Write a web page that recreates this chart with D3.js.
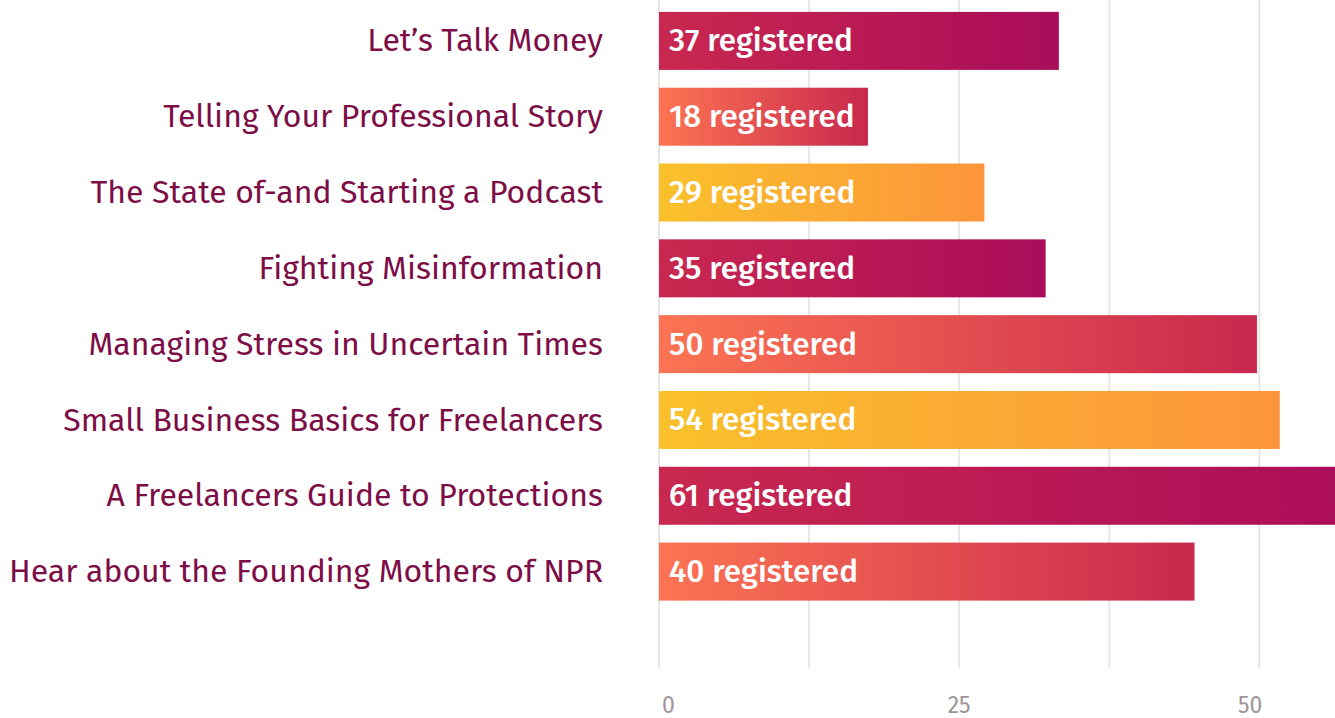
<!DOCTYPE html>
<html>
<head>
<meta charset="utf-8">
<script src="https://cdn.jsdelivr.net/npm/d3@7"></script>
<style>
	body { margin: 0; background: #fff; }
	svg { display: block; font-family: "Fira Sans", "Open Sans", sans-serif; }
</style>
</head>
<body>
<svg id="chart" width="1335" height="718"></svg>
<script>
// sessions, top to bottom
let sessions = [
	"Let\u2019s Talk Money",
	"Telling Your Professional Story",
	"The State of-and Starting a Podcast",
	"Fighting Misinformation",
	"Managing Stress in Uncertain Times",
	"Small Business Basics for Freelancers",
	"A Freelancers Guide to Protections",
	"Hear about the Founding Mothers of NPR"
];
// numbers printed in the bars
let registered = [37, 18, 29, 35, 50, 54, 61, 40];
// bar lengths as drawn against the axis (they do not match the printed numbers)
let barLengths = [33.3, 17.4, 27.1, 32.2, 49.8, 51.7, 61, 44.6];
let gridTicks = [0, 12.5, 25, 37.5, 50];
let tickLabels = [0, 25, 50];

let gradients = [
	["#c9284f", "#a90c5a"],
	["#fd7453", "#c8284d"],
	["#f9c12b", "#fd943c"]
];

function drawBars(holder){
	let margin = {"left": 659, "top": 3, "right": 0};
	let width = 1335;

	let svg = d3.select(holder);

	let scaleX = d3.scaleLinear()
		.domain([0, 56.3])
		.range([margin.left, width]);

	let scaleY = d3.scaleBand()
		.domain(sessions)
		.range([margin.top, 609.5])
		.paddingInner(0.235)
		.paddingOuter(0.1175);

	let defs = svg.append("defs");
	gradients.forEach(function(g, i){
		let lg = defs.append("linearGradient").attr("id", "grad" + i);
		lg.append("stop").attr("offset", "0%").attr("stop-color", g[0]);
		lg.append("stop").attr("offset", "100%").attr("stop-color", g[1]);
	});

	// grid
	svg.append("g").attr("class", "grid")
		.selectAll("line")
		.data(gridTicks)
		.join("line")
		.attr("x1", d => scaleX(d))
		.attr("x2", d => scaleX(d))
		.attr("y1", 0)
		.attr("y2", 668)
		.attr("stroke", "#e9e5e5")
		.attr("stroke-width", 2);

	svg.append("g").attr("class", "ticks")
		.selectAll("text")
		.data(tickLabels)
		.join("text")
		.attr("x", (d, i) => scaleX(d) + (i === 0 || i === tickLabels.length - 1 ? 3 : 0))
		.attr("y", 713)
		.attr("text-anchor", (d, i) => i === 0 ? "start" : (i === tickLabels.length - 1 ? "end" : "middle"))
		.attr("fill", "#9e9599")
		.style("font-size", "23px")
		.text(d => d);

	let rows = svg.selectAll("g.row")
		.data(sessions)
		.join("g")
		.attr("class", "row")
		.attr("transform", d => "translate(0," + scaleY(d) + ")");

	rows.append("rect")
		.attr("x", scaleX(0))
		.attr("y", 0)
		.attr("width", (d, i) => scaleX(barLengths[i]) - scaleX(0))
		.attr("height", scaleY.bandwidth())
		.attr("fill", (d, i) => "url(#grad" + (i % 3) + ")");

	rows.append("text")
		.attr("x", scaleX(0) + 10)
		.attr("y", scaleY.bandwidth() / 2)
		.attr("dy", "0.33em")
		.attr("fill", "#fff")
		.style("font-size", "31.5px")
		.style("font-weight", 500)
		.text((d, i) => registered[i] + " registered");

	rows.append("text")
		.attr("x", 603)
		.attr("y", scaleY.bandwidth() / 2)
		.attr("dy", "0.33em")
		.attr("text-anchor", "end")
		.attr("fill", "#7d0d46")
		.style("font-size", "32px")
		.text(d => d);
}

drawBars("#chart");
</script>
</body>
</html>
